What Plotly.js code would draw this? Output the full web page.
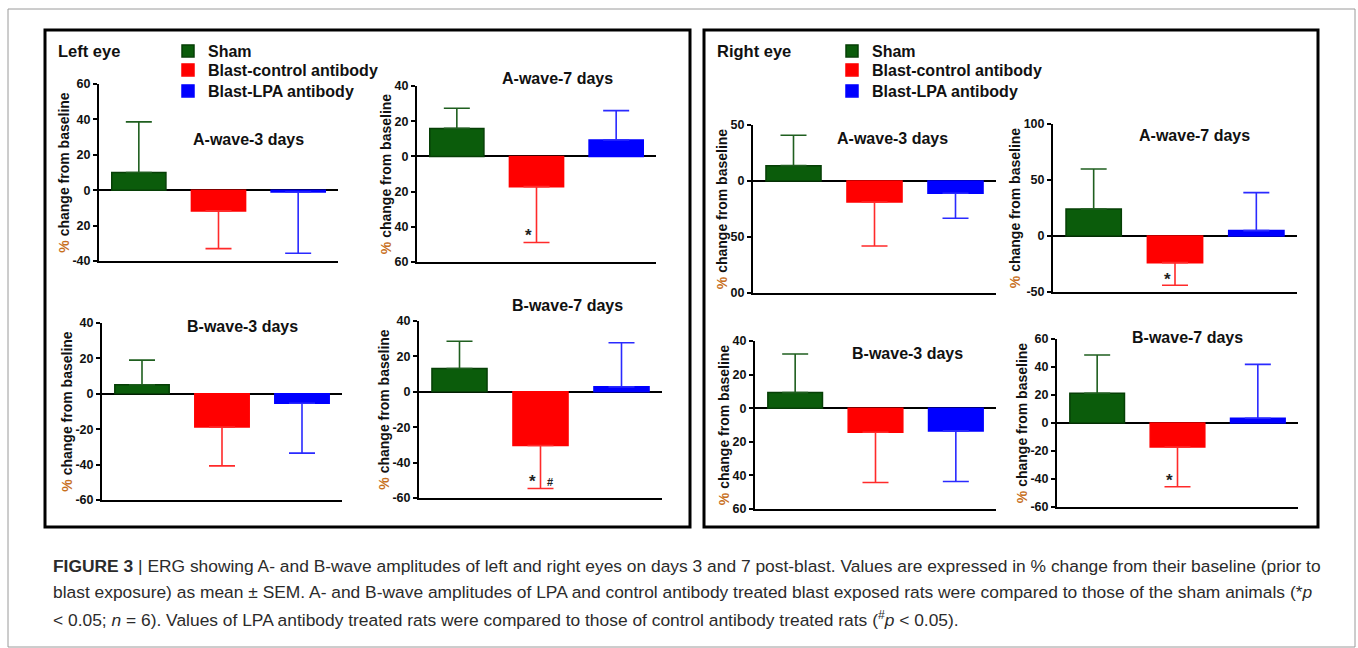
<!DOCTYPE html>
<html>
<head>
<meta charset="utf-8">
<script src="https://cdn.plot.ly/plotly-3.0.1.min.js"></script>
<style>
html,body{margin:0;padding:0;background:#fff;}
#chart{width:1358px;height:648px;}
</style>
</head>
<body>
<div id="chart"></div>
<script>
// ---------------- DATA ----------------
const groups = ['Sham', 'Blast-control antibody', 'Blast-LPA antibody'];
const panelTitles = ['A-wave-3 days', 'A-wave-7 days', 'B-wave-3 days', 'B-wave-7 days',
                     'A-wave-3 days', 'A-wave-7 days', 'B-wave-3 days', 'B-wave-7 days'];
const eyeLabels = ['Left eye', 'Right eye'];

// mean % change from baseline (Sham, Blast-control, Blast-LPA)
const leftA3Mean = [10.0, -11.7, -1.0];
const leftA3Sem  = [28.6, 21.3, 34.6];
const leftA7Mean = [15.9, -17.2, 9.3];
const leftA7Sem  = [11.5, 31.7, 16.7];
const leftB3Mean = [5.1, -18.8, -5.3];
const leftB3Sem  = [13.9, 21.9, 28.2];
const leftB7Mean = [13.2, -30.3, 2.8];
const leftB7Sem  = [15.4, 24.3, 24.9];
const rightA3Mean = [13.7, -18.8, -11.0];
const rightA3Sem  = [27.1, 39.2, 22.3];
const rightA7Mean = [24.1, -23.8, 4.8];
const rightA7Sem  = [35.7, 20.2, 33.9];
const rightB3Mean = [9.3, -14.3, -13.5];
const rightB3Sem  = [23.0, 29.9, 30.1];
const rightB7Mean = [21.2, -17.1, 3.4];
const rightB7Sem  = [27.4, 28.4, 38.5];

// y ticks and their printed labels (as in the figure)
const leftA3Ticks = [60, 40, 20, 0, -20, -40];
const leftA3Labels = ['60', '40', '20', '0', '20', '-40'];
const leftA7Ticks = [40, 20, 0, -20, -40, -60];
const leftA7Labels = ['40', '20', '0', '20', '40', '60'];
const leftB3Ticks = [40, 20, 0, -20, -40, -60];
const leftB3Labels = ['40', '20', '0', '-20', '-40', '-60'];
const leftB7Ticks = [40, 20, 0, -20, -40, -60];
const leftB7Labels = ['40', '20', '0', '-20', '-40', '-60'];
const rightA3Ticks = [50, 0, -50, -100];
const rightA3Labels = ['50', '0', '50', '00'];
const rightA7Ticks = [100, 50, 0, -50];
const rightA7Labels = ['100', '50', '0', '-50'];
const rightB3Ticks = [40, 20, 0, -20, -40, -60];
const rightB3Labels = ['40', '20', '0', '20', '40', '60'];
const rightB7Ticks = [60, 40, 20, 0, -20, -40, -60];
const rightB7Labels = ['60', '40', '20', '0', '-20', '-40', '-60'];

// significance marks: [panel index, group, y value, symbol]
const sigPanel = [1, 3, 3, 5, 7];
const sigGroup = ['Blast-control antibody', 'Blast-control antibody', 'Blast-control antibody', 'Blast-control antibody', 'Blast-control antibody'];
const sigY = [-44.8, -50.8, -50.8, -39, -41.4];
const sigText = ['*', '*', '#', '*', '*'];

const caption1 = '<b>FIGURE 3</b> | ERG showing A- and B-wave amplitudes of left and right eyes on days 3 and 7 post-blast. Values are expressed in % change from their baseline (prior to';
const caption2 = 'blast exposure) as mean ± SEM. A- and B-wave amplitudes of LPA and control antibody treated blast exposed rats were compared to those of the sham animals (*<i>p</i>';
const caption3 = '&lt; 0.05; <i>n</i> = 6). Values of LPA antibody treated rats were compared to those of control antibody treated rats (<sup>#</sup><i>p</i> &lt; 0.05).';

// ---------------- LAYOUT / STYLE ----------------
const W = 1358, H = 648;
const px = x => x / W;
const py = y => 1 - y / H;
const FONT = '"Liberation Sans", Arial, sans-serif';
const colors = ['#0b5c0b', '#ff0000', '#0000ff'];
const lineColors = ['#063f06', '#ff0000', '#0000ff'];
const errColors = ['#1f5f1f', '#ff2a2a', '#2a2aff'];

const means = [leftA3Mean, leftA7Mean, leftB3Mean, leftB7Mean, rightA3Mean, rightA7Mean, rightB3Mean, rightB7Mean];
const sems = [leftA3Sem, leftA7Sem, leftB3Sem, leftB7Sem, rightA3Sem, rightA7Sem, rightB3Sem, rightB7Sem];
const ticks = [leftA3Ticks, leftA7Ticks, leftB3Ticks, leftB7Ticks, rightA3Ticks, rightA7Ticks, rightB3Ticks, rightB7Ticks];
const labels = [leftA3Labels, leftA7Labels, leftB3Labels, leftB7Labels, rightA3Labels, rightA7Labels, rightB3Labels, rightB7Labels];

// pixel boxes of plot areas: [left, right, top, bottom]
const boxes = [
  [99, 338, 84, 261],
  [417, 656, 86, 262],
  [102, 342, 323, 500],
  [419, 662, 321, 498],
  [753, 996, 125, 293],
  [1053, 1297, 124, 292],
  [755, 996, 341, 509],
  [1057, 1298, 339, 507]
];
const titlePos = [[248, 140], [557, 79], [242, 326], [567, 305], [892, 138], [1194, 135], [907, 353], [1187, 337]];

const traces = [];
const layout = {
  width: W, height: H,
  margin: {l: 0, r: 0, t: 0, b: 0},
  paper_bgcolor: '#ffffff',
  plot_bgcolor: 'rgba(0,0,0,0)',
  barmode: 'overlay',
  showlegend: true,
  font: {family: FONT, color: '#111'},
  annotations: [],
  shapes: []
};

const legendIds = [['legend', 'legend2', 'legend3'], ['legend4', 'legend5', 'legend6']];

for (let p = 0; p < 8; p++) {
  const s = p === 0 ? '' : String(p + 1);
  for (let g = 0; g < 3; g++) {
    const m = means[p][g];
    const e = sems[p][g];
    traces.push({
      type: 'bar',
      x: [groups[g]],
      y: [m],
      name: groups[g],
      width: 0.68,
      xaxis: 'x' + s,
      yaxis: 'y' + s,
      legend: legendIds[p < 4 ? 0 : 1][g],
      showlegend: (p === 0 || p === 4),
      marker: {color: colors[g], line: {color: lineColors[g], width: 1.5}},
      error_y: {
        type: 'data', symmetric: false,
        array: [m >= 0 ? e : 0],
        arrayminus: [m < 0 ? e : 0],
        color: errColors[g], thickness: 1.6, width: 13
      },
      hoverinfo: 'x+y'
    });
  }
  const b = boxes[p];
  const tk = ticks[p];
  layout['xaxis' + s] = {
    domain: [px(b[0]), px(b[1])],
    anchor: 'y' + s,
    type: 'category',
    categoryarray: groups,
    range: [-0.5, 2.5],
    showline: true, linecolor: '#000', linewidth: 2,
    showticklabels: false, ticks: '', showgrid: false, zeroline: false,
    fixedrange: true
  };
  layout['yaxis' + s] = {
    domain: [py(b[3]), py(b[2])],
    anchor: 'x' + s,
    range: [Math.min(...tk), Math.max(...tk)],
    tickmode: 'array', tickvals: tk, ticktext: labels[p],
    showline: true, linecolor: '#000', linewidth: 2,
    ticks: 'outside', ticklen: 4, tickwidth: 2, tickcolor: '#000',
    showgrid: false,
    zeroline: true, zerolinecolor: '#000', zerolinewidth: 2,
    tickfont: {family: FONT, size: 12.5, weight: 'bold', color: '#111'},
    title: {
      text: '<span style="color:#c8701e">%</span> change from baseline',
      font: {family: FONT, size: 14, weight: 'bold', color: '#111'},
      standoff: 0
    },
    fixedrange: true
  };
  layout.annotations.push({
    text: panelTitles[p], xref: 'paper', yref: 'paper',
    x: px(titlePos[p][0]), y: py(titlePos[p][1]),
    xanchor: 'center', yanchor: 'middle', showarrow: false,
    font: {family: FONT, size: 16, weight: 'bold', color: '#111'}
  });
}

// significance marks
for (let i = 0; i < sigPanel.length; i++) {
  const s = sigPanel[i] === 0 ? '' : String(sigPanel[i] + 1);
  const isHash = sigText[i] === '#';
  layout.annotations.push({
    text: sigText[i], xref: 'x' + s, yref: 'y' + s,
    x: sigGroup[i], y: sigY[i],
    xshift: isHash ? 9 : -8,
    showarrow: false, xanchor: 'center', yanchor: 'middle',
    font: {family: FONT, size: isHash ? 11 : 17, weight: 'bold', color: '#222'}
  });
}

// eye labels
layout.annotations.push({text: eyeLabels[0], xref: 'paper', yref: 'paper', x: px(56), y: py(51),
  xanchor: 'left', yanchor: 'middle', showarrow: false, font: {family: FONT, size: 16.5, weight: 'bold', color: '#111'}});
layout.annotations.push({text: eyeLabels[1], xref: 'paper', yref: 'paper', x: px(715), y: py(51),
  xanchor: 'left', yanchor: 'middle', showarrow: false, font: {family: FONT, size: 16.5, weight: 'bold', color: '#111'}});

// caption
[caption1, caption2, caption3].forEach((c, i) => {
  layout.annotations.push({text: c, xref: 'paper', yref: 'paper', x: px(51), y: py([566, 592, 619][i]),
    xanchor: 'left', yanchor: 'middle', align: 'left', showarrow: false,
    font: {family: FONT, size: 17.4, color: '#2b2b2b'}});
});

// legends: one entry each so rows can sit exactly where the figure puts them
const rowTops = [34, 53, 74];
const legendLeft = [168, 832];
for (let side = 0; side < 2; side++) {
  for (let g = 0; g < 3; g++) {
    layout[legendIds[side][g]] = {
      x: px(legendLeft[side]), y: py(rowTops[g]),
      xanchor: 'left', yanchor: 'top',
      bgcolor: 'rgba(0,0,0,0)', borderwidth: 0,
      font: {family: FONT, size: 16, weight: 'bold', color: '#111'},
      traceorder: 'normal'
    };
  }
}

// frames
layout.shapes.push({type: 'rect', xref: 'paper', yref: 'paper', x0: px(8), x1: px(1355), y0: py(647), y1: py(9),
  line: {color: '#9a9a9a', width: 1}});
layout.shapes.push({type: 'rect', xref: 'paper', yref: 'paper', x0: px(45), x1: px(690), y0: py(527), y1: py(30),
  line: {color: '#000', width: 3}});
layout.shapes.push({type: 'rect', xref: 'paper', yref: 'paper', x0: px(704), x1: px(1318), y0: py(527), y1: py(30),
  line: {color: '#000', width: 3}});

Plotly.newPlot('chart', traces, layout, {staticPlot: true, displayModeBar: false});
</script>
</body>
</html>
